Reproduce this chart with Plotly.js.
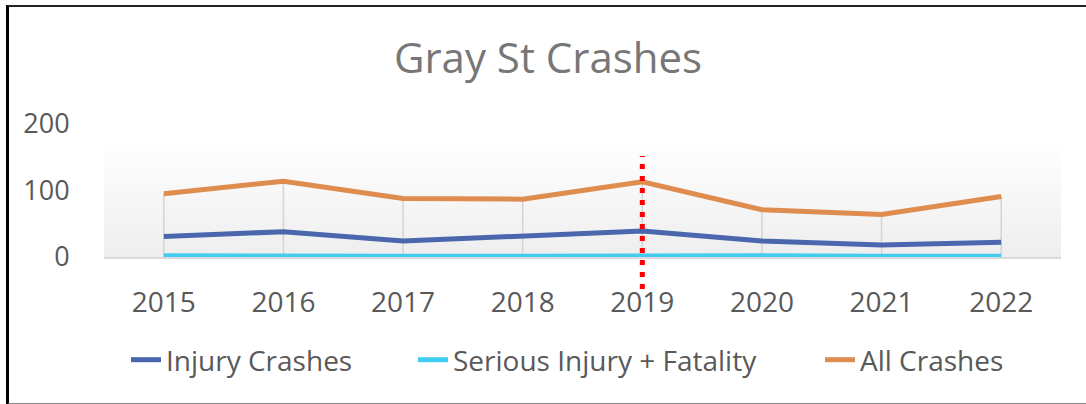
<!DOCTYPE html>
<html>
<head>
<meta charset="utf-8">
<script src="https://cdn.plot.ly/plotly-3.0.1.min.js"></script>
<style>
  html, body { margin: 0; padding: 0; background: #fff; }
  #wrap { position: relative; width: 1086px; height: 404px; overflow: hidden; }
  #chart { position: absolute; left: 0; top: 0; width: 1086px; height: 404px; }
  #frame { position: absolute; left: 6px; top: 5px; width: 1090px; height: 396px;
           border-left: 3px solid #000; border-top: 2px solid #222; border-bottom: 2px solid #8a8a8a;
           pointer-events: none; }
</style>
</head>
<body>
<div id="wrap"><div id="chart"></div><div id="frame"></div></div>
<script>
const years = ['2015', '2016', '2017', '2018', '2019', '2020', '2021', '2022'];
const injuryCrashes = [31, 38, 24, 32, 39, 24, 18, 22];
const seriousInjuryFatality = [2, 1, 1, 1, 2, 2, 1, 1];
const allCrashes = [95, 114, 88, 87, 113, 71, 64, 91];
const yTicks = [0, 100, 200];
const markerYear = '2019';

const FONT = 'Open Sans, Calibri, sans-serif';
const zeros = years.map(() => 0);

const dropLines = {
  x: years, y: allCrashes, type: 'scatter', mode: 'markers',
  marker: { size: 1, opacity: 0 }, showlegend: false, hoverinfo: 'skip',
  error_y: { type: 'data', symmetric: false, array: zeros, arrayminus: allCrashes,
             color: '#d4d4d4', thickness: 1.5, width: 0 }
};
const tInjury = { x: years, y: injuryCrashes, name: 'Injury Crashes', type: 'scatter', mode: 'lines',
  line: { color: '#4a66ac', width: 5 }, legend: 'legend' };
const tSerious = { x: years, y: seriousInjuryFatality, name: 'Serious Injury + Fatality', type: 'scatter', mode: 'lines',
  line: { color: '#42cdf0', width: 5 }, legend: 'legend2' };
const tAll = { x: years, y: allCrashes, name: 'All Crashes', type: 'scatter', mode: 'lines',
  line: { color: '#df8c4f', width: 5 }, legend: 'legend3' };

const grad = "<svg xmlns='http://www.w3.org/2000/svg' width='10' height='10' preserveAspectRatio='none'>" +
  "<defs><linearGradient id='g' x1='0' y1='0' x2='0' y2='1'><stop offset='0' stop-color='#ffffff'/>" +
  "<stop offset='1' stop-color='#eeeeee'/></linearGradient></defs><rect width='10' height='10' fill='url(#g)'/></svg>";

const idx = years.indexOf(markerYear);
const markX = (idx + 0.5) / years.length;

function leg(x) {
  return { orientation: 'h', xref: 'container', yref: 'container', x: x, y: 1 - 360 / 404,
    xanchor: 'left', yanchor: 'middle', bgcolor: 'rgba(0,0,0,0)', borderwidth: 0,
    font: { family: FONT, size: 28, color: '#595959' } };
}

const layout = {
  width: 1086, height: 404,
  margin: { l: 104, r: 25, t: 124, b: 147, pad: 0 },
  paper_bgcolor: '#ffffff', plot_bgcolor: 'rgba(0,0,0,0)',
  title: { text: 'Gray St Crashes', font: { family: FONT, size: 42, color: '#777777' },
           xref: 'container', yref: 'container', x: 548 / 1086, xanchor: 'center', y: 1 - 58 / 404, yanchor: 'middle' },
  xaxis: { type: 'category', range: [-0.5, years.length - 0.5], showgrid: false, zeroline: false,
           showline: true, linecolor: '#d9d9d9', linewidth: 2,
           ticks: 'outside', ticklen: 19, tickcolor: 'rgba(0,0,0,0)',
           tickfont: { family: FONT, size: 28, color: '#595959' }, fixedrange: true },
  yaxis: { range: [0, 200], tickvals: yTicks, ticktext: yTicks.map(String), showgrid: false, zeroline: false,
           showline: false, ticks: 'outside', ticklen: 28, tickcolor: 'rgba(0,0,0,0)',
           tickfont: { family: FONT, size: 27, color: '#595959' }, fixedrange: true },
  images: [{ source: 'data:image/svg+xml;charset=utf-8,' + encodeURIComponent(grad),
             xref: 'paper', yref: 'paper', x: 0, y: 0.88, sizex: 1, sizey: 0.88,
             xanchor: 'left', yanchor: 'top', sizing: 'stretch', layer: 'below' }],
  shapes: [{ type: 'line', xref: 'paper', yref: 'paper', x0: markX, x1: markX, y0: -0.24, y1: 0.76,
             line: { color: '#ff0000', width: 5, dash: '5px,7px' }, layer: 'above' }],
  legend: leg(126 / 1086),
  legend2: leg(413 / 1086),
  legend3: leg(820 / 1086),
  showlegend: true
};

Plotly.newPlot('chart', [dropLines, tInjury, tSerious, tAll], layout, { displayModeBar: false, staticPlot: true });
</script>
</body>
</html>
